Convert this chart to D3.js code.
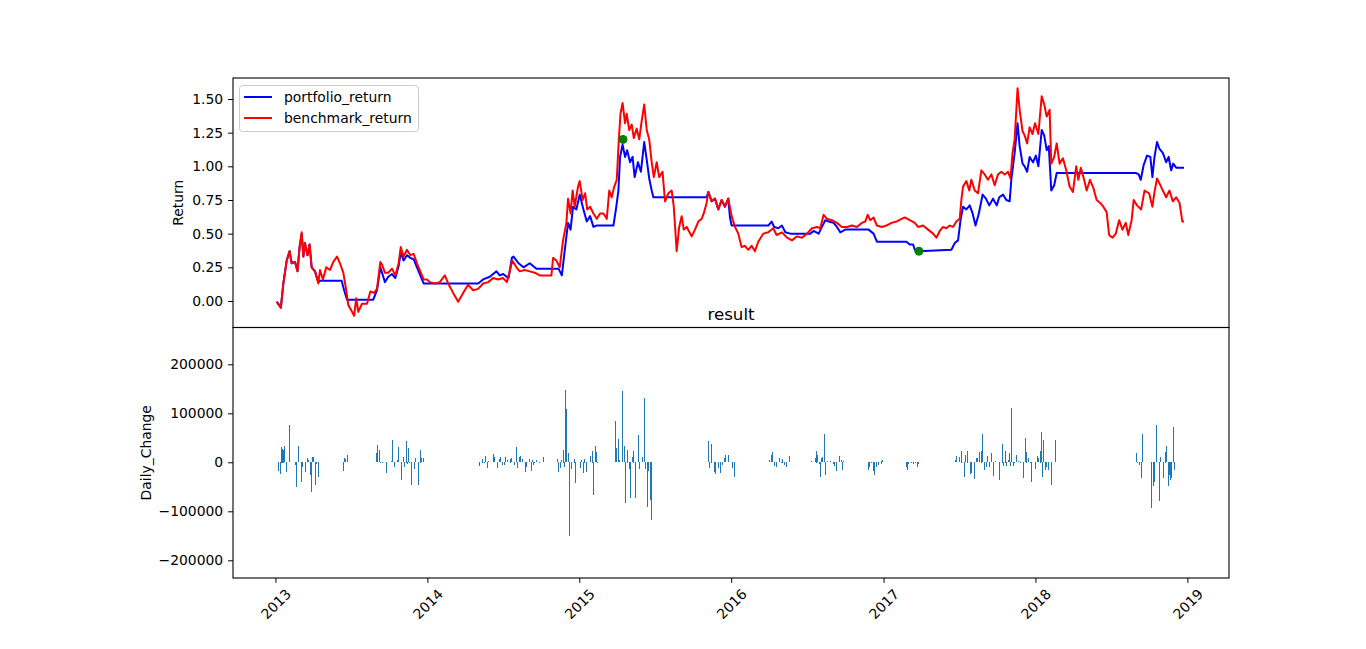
<!DOCTYPE html>
<html>
<head>
<meta charset="utf-8">
<script src="https://cdnjs.cloudflare.com/ajax/libs/d3/7.8.5/d3.min.js"></script>
<style>
  body { margin: 0; background: #fff; }
  svg text { font-family: "DejaVu Sans", sans-serif; }
</style>
</head>
<body>
<div id="chart"></div>
<script>
// portfolio return
var portfolio = [
  ["2013-01-04",-0.005],["2013-01-14",-0.05],["2013-01-20",0.13],["2013-01-28",0.30],["2013-02-04",0.37],
  ["2013-02-09",0.28],["2013-02-17",0.29],["2013-02-23",0.22],["2013-02-28",0.40],["2013-03-05",0.50],
  ["2013-03-09",0.33],["2013-03-13",0.43],["2013-03-19",0.34],["2013-03-24",0.42],["2013-03-29",0.25],
  ["2013-04-06",0.22],["2013-04-14",0.14],["2013-04-18",0.15],["2013-06-09",0.15],["2013-06-15",0.08],
  ["2013-06-22",0.01],["2013-08-24",0.01],["2013-09-02",0.08],["2013-09-10",0.25],["2013-09-21",0.14],
  ["2013-09-29",0.18],["2013-10-08",0.20],["2013-10-16",0.17],["2013-10-24",0.26],["2013-10-29",0.36],
  ["2013-11-05",0.30],["2013-11-13",0.34],["2013-11-21",0.32],["2013-11-29",0.31],["2013-12-07",0.25],
  ["2013-12-15",0.19],["2013-12-23",0.13],["2014-05-03",0.13],["2014-05-15",0.16],["2014-05-31",0.18],
  ["2014-06-08",0.20],["2014-06-16",0.22],["2014-06-24",0.19],["2014-07-02",0.20],["2014-07-15",0.17],
  ["2014-07-23",0.32],["2014-07-27",0.33],["2014-08-08",0.28],["2014-08-20",0.25],["2014-09-04",0.28],
  ["2014-09-20",0.24],["2014-11-12",0.24],["2014-11-20",0.19],["2014-11-28",0.40],["2014-12-05",0.58],
  ["2014-12-11",0.53],["2014-12-17",0.70],["2014-12-25",0.68],["2015-01-02",0.79],["2015-01-11",0.68],
  ["2015-01-19",0.59],["2015-01-27",0.63],["2015-02-04",0.55],["2015-02-11",0.56],["2015-03-24",0.56],
  ["2015-03-30",0.68],["2015-04-05",0.82],["2015-04-09",1.07],["2015-04-15",1.16],["2015-04-21",1.07],
  ["2015-04-26",1.12],["2015-05-03",1.03],["2015-05-09",1.07],["2015-05-14",0.92],["2015-05-22",1.03],
  ["2015-05-29",0.96],["2015-06-06",1.18],["2015-06-12",1.05],["2015-06-18",0.91],["2015-06-24",0.82],
  ["2015-06-28",0.77],["2015-11-03",0.77],["2015-11-07",0.81],["2015-11-15",0.74],["2015-11-23",0.76],
  ["2015-12-01",0.68],["2015-12-09",0.75],["2015-12-17",0.70],["2015-12-25",0.76],["2015-12-29",0.62],
  ["2016-01-02",0.56],["2016-03-30",0.56],["2016-04-07",0.59],["2016-04-13",0.55],["2016-04-23",0.54],
  ["2016-05-02",0.56],["2016-05-10",0.51],["2016-05-22",0.50],["2016-07-09",0.50],["2016-07-17",0.52],
  ["2016-07-29",0.50],["2016-08-06",0.55],["2016-08-14",0.60],["2016-08-22",0.59],["2016-09-03",0.58],
  ["2016-09-11",0.55],["2016-09-19",0.51],["2016-10-01",0.53],["2016-11-26",0.53],["2016-12-08",0.50],
  ["2016-12-16",0.44],["2017-02-25",0.44],["2017-03-05",0.42],["2017-03-13",0.42],["2017-03-17",0.38],
  ["2017-03-27",0.37],["2017-06-13",0.38],["2017-06-21",0.43],["2017-06-29",0.45],["2017-07-05",0.60],
  ["2017-07-11",0.70],["2017-07-19",0.68],["2017-07-27",0.71],["2017-08-03",0.65],["2017-08-10",0.56],
  ["2017-08-18",0.65],["2017-08-27",0.79],["2017-09-04",0.76],["2017-09-12",0.71],["2017-09-21",0.76],
  ["2017-09-30",0.71],["2017-10-06",0.77],["2017-10-15",0.79],["2017-10-23",0.75],["2017-10-31",0.74],
  ["2017-11-04",0.90],["2017-11-12",1.10],["2017-11-19",1.32],["2017-11-24",1.15],["2017-12-01",1.02],
  ["2017-12-06",1.00],["2017-12-12",0.96],["2017-12-18",1.07],["2017-12-26",1.03],["2018-01-02",1.08],
  ["2018-01-08",1.00],["2018-01-16",1.27],["2018-01-22",1.23],["2018-01-28",1.12],["2018-02-02",1.15],
  ["2018-02-08",0.82],["2018-02-15",0.86],["2018-02-21",0.95],["2018-08-31",0.95],["2018-09-06",0.94],
  ["2018-09-11",0.90],["2018-09-18",1.01],["2018-09-26",1.08],["2018-10-04",1.07],["2018-10-09",0.92],
  ["2018-10-14",1.07],["2018-10-20",1.18],["2018-10-26",1.13],["2018-11-03",1.10],["2018-11-11",1.03],
  ["2018-11-17",1.07],["2018-11-23",0.97],["2018-11-28",1.02],["2018-12-05",0.99],["2018-12-24",0.99]
];

// benchmark return
var benchmark = [
  ["2013-01-04",-0.005],["2013-01-14",-0.05],["2013-01-20",0.13],["2013-01-28",0.30],["2013-02-04",0.37],
  ["2013-02-09",0.28],["2013-02-17",0.29],["2013-02-23",0.22],["2013-02-28",0.40],["2013-03-05",0.51],
  ["2013-03-09",0.33],["2013-03-13",0.43],["2013-03-19",0.34],["2013-03-24",0.42],["2013-03-29",0.25],
  ["2013-04-06",0.22],["2013-04-14",0.13],["2013-04-18",0.23],["2013-04-25",0.16],["2013-05-03",0.25],
  ["2013-05-12",0.23],["2013-05-20",0.29],["2013-05-29",0.33],["2013-06-05",0.28],["2013-06-13",0.21],
  ["2013-06-20",0.08],["2013-06-25",-0.03],["2013-07-04",-0.08],["2013-07-09",-0.11],["2013-07-14",0.02],
  ["2013-07-19",-0.08],["2013-07-28",-0.02],["2013-08-09",-0.02],["2013-08-17",0.07],["2013-08-26",0.06],
  ["2013-09-02",0.09],["2013-09-10",0.29],["2013-09-14",0.27],["2013-09-21",0.21],["2013-09-29",0.21],
  ["2013-10-08",0.24],["2013-10-16",0.19],["2013-10-24",0.28],["2013-10-29",0.40],["2013-11-05",0.33],
  ["2013-11-13",0.38],["2013-11-21",0.34],["2013-11-29",0.35],["2013-12-07",0.28],["2013-12-15",0.22],
  ["2013-12-23",0.16],["2013-12-31",0.16],["2014-01-07",0.14],["2014-01-19",0.13],["2014-01-31",0.14],
  ["2014-02-12",0.19],["2014-02-20",0.13],["2014-03-04",0.06],["2014-03-16",-0.005],["2014-03-28",0.06],
  ["2014-04-09",0.12],["2014-04-21",0.08],["2014-05-03",0.09],["2014-05-15",0.13],["2014-05-27",0.14],
  ["2014-06-08",0.17],["2014-06-20",0.16],["2014-07-02",0.17],["2014-07-11",0.14],["2014-07-18",0.22],
  ["2014-07-24",0.30],["2014-08-03",0.25],["2014-08-11",0.22],["2014-08-23",0.23],["2014-09-04",0.22],
  ["2014-09-16",0.21],["2014-09-28",0.19],["2014-10-14",0.19],["2014-10-26",0.19],["2014-10-30",0.32],
  ["2014-11-07",0.30],["2014-11-15",0.25],["2014-11-23",0.45],["2014-12-01",0.58],["2014-12-05",0.76],
  ["2014-12-11",0.65],["2014-12-16",0.82],["2014-12-21",0.70],["2014-12-29",0.85],["2015-01-02",0.89],
  ["2015-01-09",0.75],["2015-01-15",0.80],["2015-01-20",0.68],["2015-01-27",0.70],["2015-02-04",0.65],
  ["2015-02-12",0.61],["2015-02-20",0.65],["2015-02-28",0.65],["2015-03-08",0.61],["2015-03-14",0.82],
  ["2015-03-20",0.77],["2015-03-25",0.84],["2015-04-01",0.90],["2015-04-06",1.20],["2015-04-10",1.39],
  ["2015-04-15",1.47],["2015-04-21",1.32],["2015-04-25",1.39],["2015-05-01",1.27],["2015-05-07",1.31],
  ["2015-05-12",1.21],["2015-05-19",1.28],["2015-05-25",1.20],["2015-05-31",1.34],["2015-06-06",1.46],
  ["2015-06-12",1.27],["2015-06-18",1.20],["2015-06-24",1.03],["2015-06-29",0.92],["2015-07-06",1.03],
  ["2015-07-12",0.92],["2015-07-20",0.96],["2015-07-26",0.74],["2015-08-03",0.80],["2015-08-11",0.82],
  ["2015-08-16",0.70],["2015-08-23",0.37],["2015-08-29",0.55],["2015-09-04",0.63],["2015-09-09",0.53],
  ["2015-09-16",0.55],["2015-09-28",0.48],["2015-10-06",0.53],["2015-10-14",0.59],["2015-10-22",0.61],
  ["2015-10-27",0.65],["2015-11-03",0.73],["2015-11-07",0.81],["2015-11-15",0.74],["2015-11-23",0.76],
  ["2015-12-01",0.68],["2015-12-09",0.75],["2015-12-17",0.70],["2015-12-25",0.76],["2016-01-02",0.63],
  ["2016-01-10",0.55],["2016-01-18",0.50],["2016-01-26",0.40],["2016-02-03",0.41],["2016-02-11",0.38],
  ["2016-02-19",0.41],["2016-02-27",0.37],["2016-03-06",0.44],["2016-03-18",0.50],["2016-03-30",0.51],
  ["2016-04-11",0.54],["2016-04-19",0.49],["2016-05-02",0.51],["2016-05-14",0.47],["2016-05-26",0.45],
  ["2016-06-07",0.48],["2016-06-19",0.47],["2016-07-01",0.50],["2016-07-13",0.54],["2016-07-25",0.55],
  ["2016-08-02",0.54],["2016-08-10",0.64],["2016-08-18",0.61],["2016-08-30",0.60],["2016-09-11",0.58],
  ["2016-09-23",0.55],["2016-10-05",0.55],["2016-10-17",0.56],["2016-10-29",0.55],["2016-11-10",0.58],
  ["2016-11-18",0.59],["2016-11-24",0.64],["2016-11-30",0.60],["2016-12-08",0.62],["2016-12-16",0.56],
  ["2016-12-28",0.55],["2017-01-08",0.56],["2017-01-20",0.58],["2017-02-01",0.59],["2017-02-13",0.61],
  ["2017-02-21",0.62],["2017-03-05",0.60],["2017-03-17",0.58],["2017-03-25",0.55],["2017-04-06",0.56],
  ["2017-04-18",0.53],["2017-04-30",0.50],["2017-05-08",0.47],["2017-05-16",0.52],["2017-05-24",0.55],
  ["2017-06-01",0.54],["2017-06-09",0.56],["2017-06-17",0.55],["2017-06-25",0.59],["2017-07-03",0.61],
  ["2017-07-07",0.75],["2017-07-11",0.85],["2017-07-19",0.89],["2017-07-26",0.82],["2017-07-31",0.90],
  ["2017-08-08",0.82],["2017-08-16",0.80],["2017-08-24",0.97],["2017-09-01",0.94],["2017-09-09",0.90],
  ["2017-09-17",0.94],["2017-09-25",0.86],["2017-10-03",0.94],["2017-10-11",0.96],["2017-10-19",0.94],
  ["2017-10-27",0.96],["2017-11-02",0.91],["2017-11-07",1.10],["2017-11-12",1.20],["2017-11-19",1.58],
  ["2017-11-24",1.42],["2017-12-01",1.26],["2017-12-06",1.23],["2017-12-12",1.17],["2017-12-18",1.29],
  ["2017-12-25",1.24],["2017-12-31",1.32],["2018-01-08",1.24],["2018-01-16",1.52],["2018-01-22",1.46],
  ["2018-01-28",1.37],["2018-02-04",1.42],["2018-02-08",1.02],["2018-02-15",1.07],["2018-02-21",1.17],
  ["2018-02-28",1.02],["2018-03-08",1.06],["2018-03-16",0.97],["2018-03-24",0.85],["2018-04-01",0.81],
  ["2018-04-09",1.00],["2018-04-14",0.90],["2018-04-20",0.99],["2018-04-28",0.90],["2018-05-04",0.82],
  ["2018-05-12",0.90],["2018-05-20",0.84],["2018-05-28",0.75],["2018-06-05",0.73],["2018-06-13",0.70],
  ["2018-06-21",0.66],["2018-06-27",0.49],["2018-07-05",0.47],["2018-07-13",0.50],["2018-07-21",0.60],
  ["2018-07-29",0.53],["2018-08-06",0.58],["2018-08-12",0.49],["2018-08-20",0.60],["2018-08-25",0.75],
  ["2018-09-02",0.71],["2018-09-12",0.68],["2018-09-20",0.82],["2018-10-01",0.80],["2018-10-09",0.70],
  ["2018-10-14",0.81],["2018-10-20",0.91],["2018-10-28",0.86],["2018-11-03",0.82],["2018-11-11",0.77],
  ["2018-11-19",0.82],["2018-11-27",0.74],["2018-12-05",0.77],["2018-12-13",0.73],["2018-12-20",0.59],
  ["2018-12-24",0.59]
];

// the two green markers
var markers = [["2015-04-16",1.20],["2017-03-27",0.37]];

// daily change bars
var dailyChange = [
  ["2013-01-08",-19000],["2013-01-12",-24000],["2013-01-15",32000],["2013-01-18",28000],["2013-01-20",26000],
  ["2013-01-23",33000],["2013-01-27",-20000],["2013-02-04",76000],["2013-02-18",-6000],["2013-02-20",-52000],
  ["2013-02-25",33000],["2013-03-04",-40000],["2013-03-06",-10000],["2013-03-14",-20000],["2013-03-19",9000],
  ["2013-03-22",4000],["2013-03-26",-27000],["2013-03-29",-61000],["2013-03-31",10000],["2013-04-02",10000],
  ["2013-04-07",-46000],["2013-04-10",-5000],["2013-04-14",-30000],
  ["2013-06-13",-18000],["2013-06-16",8000],["2013-06-19",6000],["2013-06-23",14000],
  ["2013-08-31",19000],["2013-09-03",35000],["2013-09-07",25000],["2013-09-10",-1500],["2013-09-15",-1500],
  ["2013-09-25",-22000],["2013-10-07",2000],["2013-10-09",45000],["2013-10-14",-10000],["2013-10-21",5000],
  ["2013-10-24",31000],["2013-10-31",-37000],["2013-11-05",11000],["2013-11-07",-10000],["2013-11-12",44000],
  ["2013-11-14",-5000],["2013-11-17",29000],["2013-11-19",-3000],["2013-11-24",-47000],["2013-12-01",-15000],
  ["2013-12-03",9000],["2013-12-11",-47000],["2013-12-15",26000],["2013-12-18",9000],["2013-12-23",9000],
  ["2014-05-06",-8000],["2014-05-13",7500],["2014-05-18",-3000],["2014-05-20",12000],["2014-05-25",-12000],
  ["2014-05-27",3000],["2014-06-08",16000],["2014-06-11",11000],["2014-06-18",-12000],["2014-06-23",6000],
  ["2014-06-25",11000],["2014-06-30",-6000],["2014-07-05",-7000],["2014-07-07",11000],["2014-07-12",4000],
  ["2014-07-19",7500],["2014-07-22",9000],["2014-07-29",-7000],["2014-08-03",31000],["2014-08-05",-12000],
  ["2014-08-10",11000],["2014-08-13",13000],["2014-08-17",6000],["2014-08-25",-20000],["2014-08-27",-10000],
  ["2014-09-03",6000],["2014-09-08",-18000],["2014-09-10",4000],["2014-09-13",-6000],["2014-09-15",-3000],
  ["2014-09-20",4000],["2014-09-27",-1500],["2014-10-07",11000],
  ["2014-11-10",6000],["2014-11-12",-20000],["2014-11-17",-13000],["2014-11-19",4000],["2014-11-24",26000],
  ["2014-11-26",-10000],["2014-11-29",147000],["2014-12-01",108000],["2014-12-06",18000],["2014-12-08",-150000],
  ["2014-12-13",-15000],["2014-12-20",7500],["2014-12-23",-42000],["2015-01-03",-13000],["2015-01-06",4000],
  ["2015-01-11",-23000],["2015-01-13",7500],["2015-01-18",-20000],["2015-01-27",12000],["2015-02-01",24000],
  ["2015-02-04",-67000],["2015-02-08",33000],["2015-02-11",21000],["2015-02-13",1000],
  ["2015-03-29",84000],["2015-03-31",29000],["2015-04-05",47000],["2015-04-07",4000],["2015-04-14",145000],
  ["2015-04-19",33000],["2015-04-22",-84000],["2015-04-26",26000],["2015-05-01",-15000],["2015-05-04",-73000],
  ["2015-05-08",11000],["2015-05-11",24000],["2015-05-15",-74000],["2015-05-23",55000],["2015-05-25",-15000],
  ["2015-06-01",11000],["2015-06-06",131000],["2015-06-09",-15000],["2015-06-13",-91000],["2015-06-16",-18000],
  ["2015-06-21",-77000],["2015-06-23",-118000],
  ["2015-11-07",43000],["2015-11-10",-13000],["2015-11-15",38000],["2015-11-22",-20000],["2015-11-24",-25000],
  ["2015-12-02",-12000],["2015-12-07",-22000],["2015-12-11",-6000],["2015-12-16",9000],["2015-12-19",14000],
  ["2015-12-26",14000],["2016-01-04",-13000],["2016-01-08",-30000],
  ["2016-04-03",5000],["2016-04-07",14000],["2016-04-10",21000],["2016-04-15",-8000],["2016-04-20",-11000],
  ["2016-04-25",9000],["2016-04-30",-3000],["2016-05-04",7500],["2016-05-09",-6000],["2016-05-14",-10000],
  ["2016-05-19",12000],
  ["2016-07-13",2000],["2016-07-21",9000],["2016-07-25",24000],["2016-07-27",14000],["2016-08-01",-5000],
  ["2016-08-03",-30000],["2016-08-06",9000],["2016-08-08",11000],["2016-08-12",57000],["2016-08-15",-27000],
  ["2016-08-20",2000],["2016-08-27",2500],["2016-09-03",-4000],["2016-09-06",-8000],["2016-09-10",-18000],
  ["2016-09-17",12000],["2016-09-21",4000],["2016-09-25",-16000],["2016-09-27",2000],
  ["2016-11-27",-16000],["2016-11-29",-10000],["2016-12-04",-3000],["2016-12-09",-18000],["2016-12-11",-27000],
  ["2016-12-16",-10000],["2016-12-21",-6000],["2016-12-26",-5000],["2016-12-28",2000],["2016-12-30",5000],
  ["2017-02-24",-11000],["2017-02-27",-16000],["2017-03-03",-5000],["2017-03-08",-3000],["2017-03-13",-5000],
  ["2017-03-18",-3000],["2017-03-23",-11000],["2017-03-25",-5000],
  ["2017-06-23",5000],["2017-06-26",12000],["2017-07-02",11000],["2017-07-07",24000],["2017-07-14",-30000],
  ["2017-07-16",15000],["2017-07-21",24000],["2017-07-28",-24000],["2017-07-31",-22000],["2017-08-07",-35000],
  ["2017-08-12",9000],["2017-08-14",9000],["2017-08-19",21000],["2017-08-24",24000],["2017-08-26",57000],
  ["2017-08-31",-16000],["2017-09-05",-10000],["2017-09-07",12000],["2017-09-12",-10000],["2017-09-17",19000],
  ["2017-09-21",-29000],["2017-09-26",2000],["2017-10-06",-37000],["2017-10-13",38000],["2017-10-16",-8000],
  ["2017-10-21",24000],["2017-10-23",-8000],["2017-10-28",4000],["2017-10-30",19000],["2017-11-02",-8000],
  ["2017-11-05",110000],["2017-11-09",-8000],["2017-11-12",1500],["2017-11-16",14000],["2017-11-21",2000],
  ["2017-11-26",500],["2017-12-03",-32000],["2017-12-08",49000],["2017-12-11",22000],["2017-12-15",9000],
  ["2017-12-20",-3000],["2017-12-23",-40000],["2018-01-02",-15000],["2018-01-06",12000],["2018-01-08",9000],
  ["2018-01-13",24000],["2018-01-15",61000],["2018-01-18",-30000],["2018-01-20",45000],["2018-01-25",-16000],
  ["2018-01-27",-10000],["2018-02-01",-16000],["2018-02-08",-47000],["2018-02-18",45000],
  ["2018-08-31",19000],["2018-09-02",-3000],["2018-09-07",-6000],["2018-09-12",-33000],["2018-09-15",57000],
  ["2018-10-07",-93000],["2018-10-11",-48000],["2018-10-14",-40000],["2018-10-18",76000],["2018-10-26",-80000],
  ["2018-10-28",11000],["2018-11-04",-32000],["2018-11-09",22000],["2018-11-11",33000],["2018-11-16",-48000],
  ["2018-11-19",-27000],["2018-11-21",-36000],["2018-11-23",-33000],["2018-11-28",72000],["2018-12-01",-16000]
];

var returnTicks = [0, 0.25, 0.5, 0.75, 1.0, 1.25, 1.5];
var changeTicks = [-200000, -100000, 0, 100000, 200000];
var yearTicks = ["2013", "2014", "2015", "2016", "2017", "2018", "2019"];
var seriesNames = ["portfolio_return", "benchmark_return"];

var W = 1366, H = 649;
var left = 233, right = 1229;
var top1 = 78, mid = 327.5, bot2 = 578;
var FS = "13.9px";

var parse = d3.timeParse("%Y-%m-%d");
var svg = d3.select("#chart").append("svg")
    .attr("width", W).attr("height", H);

var x = d3.scaleTime()
    .domain([parse("2012-09-21"), parse("2019-04-11")])
    .range([left, right]);
var yRet = d3.scaleLinear().domain([-0.197, 1.656]).range([mid, top1]);
var yChg = d3.scaleLinear().domain([-236100, 275100]).range([bot2, mid]);

// clip paths for the two panels
var defs = svg.append("defs");
defs.append("clipPath").attr("id", "clipTop").append("rect")
    .attr("x", left).attr("y", top1).attr("width", right - left).attr("height", mid - top1);
defs.append("clipPath").attr("id", "clipBot").append("rect")
    .attr("x", left).attr("y", mid).attr("width", right - left).attr("height", bot2 - mid);

// --- top panel: return lines
var line = d3.line()
    .x(function (d) { return x(parse(d[0])); })
    .y(function (d) { return yRet(d[1]); });

var gTop = svg.append("g").attr("clip-path", "url(#clipTop)");
gTop.append("path").datum(portfolio)
    .attr("d", line).attr("fill", "none")
    .attr("stroke", "#0000ff").attr("stroke-width", 2).attr("stroke-linejoin", "round");
gTop.append("path").datum(benchmark)
    .attr("d", line).attr("fill", "none")
    .attr("stroke", "#ff0000").attr("stroke-width", 2).attr("stroke-linejoin", "round");
gTop.selectAll("circle").data(markers).enter().append("circle")
    .attr("cx", function (d) { return x(parse(d[0])); })
    .attr("cy", function (d) { return yRet(d[1]); })
    .attr("r", 4.5).attr("fill", "#008000");

// --- bottom panel: daily change bars (1px wide, snapped to pixels)
var zeroY = yChg(0);
var gBot = svg.append("g").attr("clip-path", "url(#clipBot)")
    .attr("shape-rendering", "crispEdges");
gBot.selectAll("rect").data(dailyChange).enter().append("rect")
    .attr("x", function (d) { return Math.floor(x(parse(d[0]))); })
    .attr("width", 1)
    .attr("y", function (d) { return Math.round(Math.min(yChg(d[1]), zeroY)); })
    .attr("height", function (d) { return Math.max(1, Math.round(Math.abs(yChg(d[1]) - zeroY))); })
    .attr("fill", "#1f77b4");

// --- axes
function styleAxis(g) {
    g.select(".domain").remove();
    g.selectAll(".tick line").attr("stroke", "#000").attr("stroke-width", 1);
    g.selectAll(".tick text").attr("fill", "#000")
        .style("font-size", FS).style("font-family", "DejaVu Sans, sans-serif");
}

svg.append("g").attr("transform", "translate(" + left + ",0)")
    .call(d3.axisLeft(yRet).tickValues(returnTicks).tickSize(4.9).tickPadding(4.9)
        .tickFormat(d3.format(".2f")))
    .call(styleAxis);

svg.append("g").attr("transform", "translate(" + left + ",0)")
    .call(d3.axisLeft(yChg).tickValues(changeTicks).tickSize(4.9).tickPadding(4.9)
        .tickFormat(function (d) { return d < 0 ? "\u2212" + (-d) : String(d); }))
    .call(styleAxis);

var xAxis = svg.append("g").attr("transform", "translate(0," + bot2 + ")")
    .call(d3.axisBottom(x).tickValues(yearTicks.map(function (s) { return parse(s + "-01-01"); }))
        .tickSize(4.9).tickFormat(d3.timeFormat("%Y")))
    .call(styleAxis);
xAxis.selectAll(".tick text")
    .attr("y", 0).attr("dy", null)
    .attr("text-anchor", "middle").attr("dominant-baseline", "central")
    .attr("transform", "translate(0,26) rotate(-45)");

// --- frames
svg.append("rect").attr("x", left).attr("y", top1)
    .attr("width", right - left).attr("height", mid - top1)
    .attr("fill", "none").attr("stroke", "#000").attr("stroke-width", 1.1);
svg.append("rect").attr("x", left).attr("y", mid)
    .attr("width", right - left).attr("height", bot2 - mid)
    .attr("fill", "none").attr("stroke", "#000").attr("stroke-width", 1.1);

// --- labels
svg.append("text").text("Return")
    .attr("transform", "translate(178," + ((top1 + mid) / 2) + ") rotate(-90)")
    .attr("text-anchor", "middle").attr("dominant-baseline", "central")
    .style("font-size", FS);
svg.append("text").text("Daily_Change")
    .attr("transform", "translate(146," + ((mid + bot2) / 2) + ") rotate(-90)")
    .attr("text-anchor", "middle").attr("dominant-baseline", "central")
    .style("font-size", FS);
svg.append("text").text("result")
    .attr("x", (left + right) / 2).attr("y", 319.5)
    .attr("text-anchor", "middle")
    .style("font-size", "16.7px");

// --- legend
var lg = svg.append("g");
lg.append("rect").attr("x", 239.5).attr("y", 85.5).attr("width", 179).attr("height", 46)
    .attr("rx", 3).attr("fill", "#fff").attr("fill-opacity", 0.8)
    .attr("stroke", "#cccccc").attr("stroke-width", 1);
var legColors = ["#0000ff", "#ff0000"];
seriesNames.forEach(function (name, i) {
    var yy = 97 + i * 21;
    lg.append("line").attr("x1", 244).attr("x2", 272).attr("y1", yy).attr("y2", yy)
        .attr("stroke", legColors[i]).attr("stroke-width", 2);
    lg.append("text").text(name).attr("x", 284).attr("y", yy)
        .attr("dominant-baseline", "central").style("font-size", FS);
});
</script>
</body>
</html>
